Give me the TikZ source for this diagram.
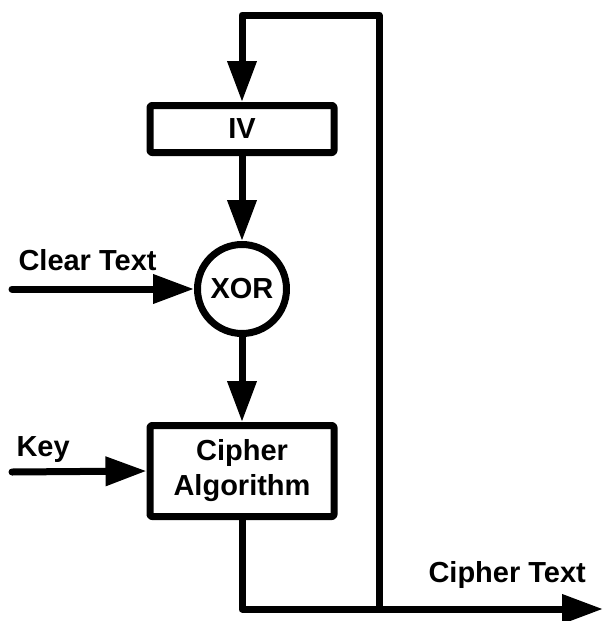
\documentclass[tikz,border=0pt]{standalone}
\usepackage{fontspec}
\setmainfont{Liberation Sans}
\usetikzlibrary{arrows.meta}

\begin{document}
\begin{tikzpicture}[x=1pt,y=-1pt,
    line width=7pt, line join=round,
    font=\fontsize{29}{35}\selectfont\bfseries,
    blk/.style={draw, rectangle, rounded corners=2pt, inner sep=0pt, align=center},
    flow/.style={-{Triangle[length=41pt,width=28pt]}}]

\useasboundingbox (0,0) rectangle (603,621);

% boxes and the xor
\node[blk, minimum width=184pt, minimum height=47pt] (iv) at (242,129) {IV};
\node[draw, circle, inner sep=0pt, minimum size=89pt] (xor) at (242,289) {XOR};
\node[blk, minimum width=184pt, minimum height=91pt] (cipher) at (242,471) {Cipher\\Algorithm};

% labels
\node[anchor=base west, inner sep=0pt] (cleartext) at (15,270) {Clear Text};
\node[anchor=base west, inner sep=0pt] (keytext) at (13,456) {Key};
\node[anchor=base west, inner sep=0pt] (ciphertext) at (425,582) {Cipher Text};

\coordinate (clearin) at (12,289);
\coordinate (keyin) at (12,472);
\coordinate (outcorner) at (242,609);
\coordinate (split) at (379,609);
\coordinate (out) at (603,609);
\coordinate (topright) at (379,15);
\coordinate (topleft) at (242,15);

% connectors
\draw[flow, line cap=round] (clearin) -- (xor.west);
\draw[flow, line cap=round] (keyin) -- (cipher.west);
\draw[flow] (iv.south) -- (xor.north);
\draw[flow] (xor.south) -- (cipher.north);
\draw[flow] (cipher.south) -- (outcorner) -- (out);
\draw[flow] (split) -- (topright) -- (topleft) -- (iv.north);

\end{tikzpicture}
\end{document}
